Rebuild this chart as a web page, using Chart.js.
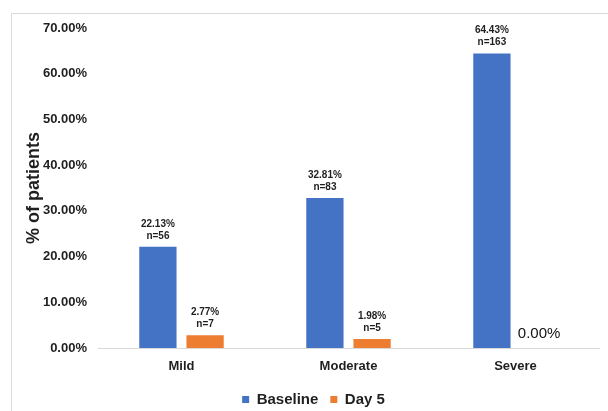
<!DOCTYPE html>
<html>
<head>
<meta charset="utf-8">
<script src="https://cdn.jsdelivr.net/npm/chart.js@4.4.1/dist/chart.umd.min.js"></script>
<style>
  html, body { margin: 0; padding: 0; background: #fff; }
  #wrap { width: 608px; height: 411px; position: relative; }
</style>
</head>
<body>
<div id="wrap"><canvas id="c" width="608" height="411"></canvas></div>
<script>
// Severity categories and the share of patients in each, at baseline and on day 5
const categories = ['Mild', 'Moderate', 'Severe'];
const baselinePct = [22.13, 32.81, 64.43];
const day5Pct = [2.77, 1.98, 0.00];
const baselineN = [56, 83, 163];
const day5N = [7, 5, 0];
const yTicks = [0, 10, 20, 30, 40, 50, 60, 70];

const FONT = "'Liberation Sans', Arial, Helvetica, sans-serif";
const TEXT = '#1f1f1f';

// Thin frame along the top and left edges of the figure
const framePlugin = {
  id: 'frame',
  beforeDraw(chart) {
    const ctx = chart.ctx;
    ctx.save();
    ctx.strokeStyle = '#d9d9d9';
    ctx.lineWidth = 1;
    ctx.beginPath();
    ctx.moveTo(11.5, chart.height);
    ctx.lineTo(11.5, 13.5);
    ctx.lineTo(chart.width, 13.5);
    ctx.stroke();
    ctx.restore();
  }
};

// Value labels above each bar: percentage and patient count
const barLabelPlugin = {
  id: 'barLabels',
  afterDatasetsDraw(chart) {
    const ctx = chart.ctx;
    chart.data.datasets.forEach((ds, di) => {
      const meta = chart.getDatasetMeta(di);
      meta.data.forEach((bar, i) => {
        const v = ds.data[i];
        const n = ds.counts[i];
        ctx.save();
        ctx.fillStyle = TEXT;
        ctx.textAlign = 'center';
        ctx.textBaseline = 'alphabetic';
        if (v === 0) {
          ctx.fillStyle = '#111';
          ctx.font = "15px " + FONT;
          ctx.fillText(v.toFixed(2) + '%', bar.x, bar.y - 10);
        } else {
          ctx.font = "bold 10px " + FONT;
          ctx.fillText('n=' + n, bar.x, bar.y - 8);
          ctx.fillText(v.toFixed(2) + '%', bar.x, bar.y - 20);
        }
        ctx.restore();
      });
    });
  }
};

// Nudge the legend row to the right
const legendShift = {
  id: 'legendShift',
  afterLayout(chart) {
    if (chart.legend) {
      chart.legend.left += 14;
      chart.legend.right += 14;
    }
  }
};

new Chart(document.getElementById('c'), {
  type: 'bar',
  data: {
    labels: categories,
    datasets: [
      { label: 'Baseline', data: baselinePct, counts: baselineN, backgroundColor: '#4472C4',
        categoryPercentage: 0.565, barPercentage: 0.79 },
      { label: 'Day 5', data: day5Pct, counts: day5N, backgroundColor: '#ED7D31',
        categoryPercentage: 0.565, barPercentage: 0.79 }
    ]
  },
  options: {
    responsive: false,
    animation: false,
    devicePixelRatio: 1,
    layout: { padding: { top: 28, right: 9, bottom: -6, left: 0 } },
    plugins: {
      tooltip: { enabled: false },
      legend: {
        position: 'bottom',
        labels: {
          boxWidth: 7, boxHeight: 7, padding: 12,
          color: TEXT,
          font: { family: FONT, size: 15, weight: 'bold' }
        }
      }
    },
    scales: {
      x: {
        grid: { display: false, drawTicks: false },
        border: { color: '#d9d9d9', width: 1 },
        ticks: { padding: 11, color: TEXT, font: { family: FONT, size: 13, weight: 'bold' } },
        afterFit(scale) { scale.height = 32; }
      },
      y: {
        min: 0, max: 70,
        grid: { display: false, drawTicks: false },
        border: { display: false },
        afterBuildTicks(scale) { scale.ticks = yTicks.map(v => ({ value: v })); },
        ticks: {
          padding: 11, color: TEXT,
          font: { family: FONT, size: 13, weight: 'bold' },
          callback: v => v.toFixed(2) + '%'
        },
        title: {
          display: true, text: '% of patients', color: TEXT,
          padding: { top: 23, bottom: 0 },
          font: { family: FONT, size: 18, weight: 'bold' }
        },
        afterFit(scale) { scale.width = 98; }
      }
    }
  },
  plugins: [framePlugin, barLabelPlugin, legendShift]
});
</script>
</body>
</html>
